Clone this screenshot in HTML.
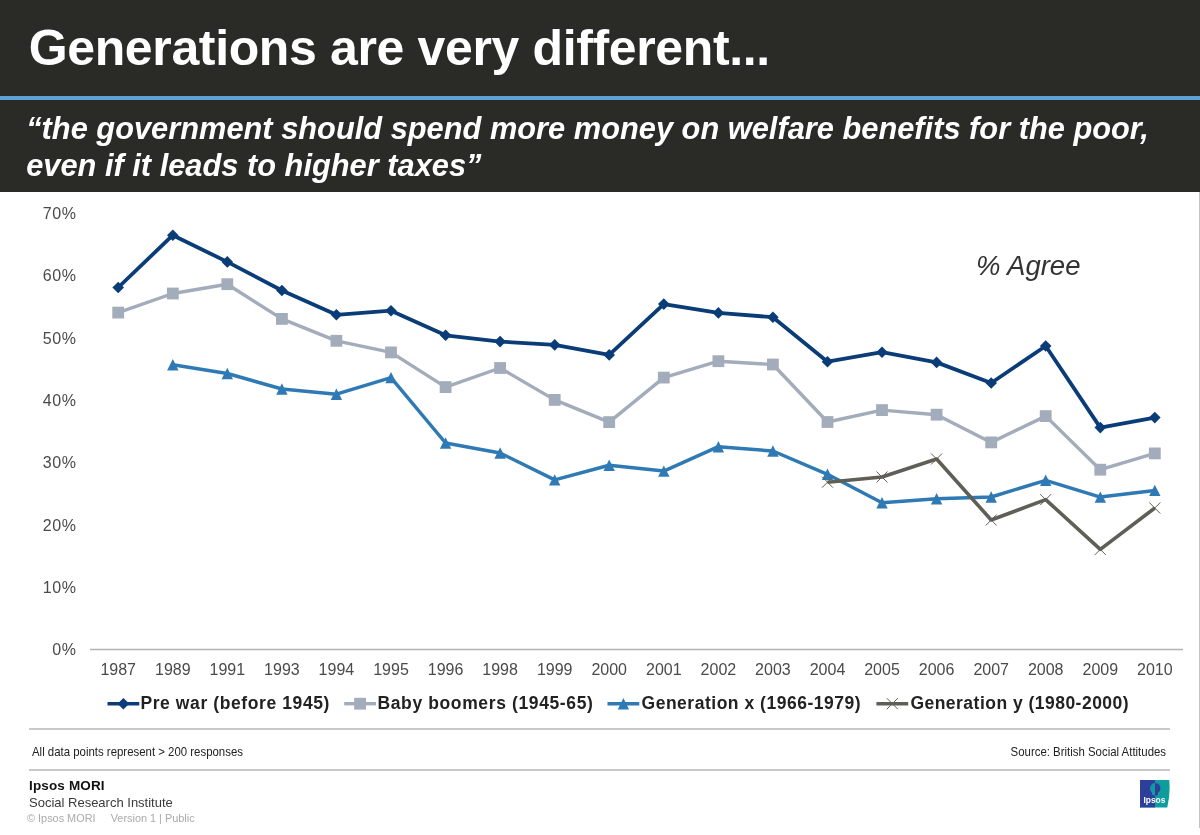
<!DOCTYPE html>
<html lang="en"><head><meta charset="utf-8"><title>Generations are very different...</title>
<style>
html,body{margin:0;padding:0;background:#fff;}
body{width:1200px;height:835px;position:relative;overflow:hidden;font-family:"Liberation Sans",Arial,sans-serif;}
.hdr{position:absolute;left:0;top:0;width:1200px;height:192px;background:#2a2a27;}
.rule{position:absolute;left:0;top:96px;width:1200px;height:4px;background:#5fa0d5;}
h1{position:absolute;left:28.7px;top:19px;margin:0;font-size:50px;line-height:58px;letter-spacing:-0.36px;font-weight:bold;color:#fff;white-space:nowrap;}
.sub{position:absolute;left:26.2px;top:110px;margin:0;font-size:30.8px;line-height:37px;font-weight:bold;font-style:italic;color:#fff;white-space:nowrap;}
.chart{position:absolute;left:0;top:0;}
.hr{position:absolute;left:29px;width:1141px;height:2px;background:#c9c9c9;}
.note{position:absolute;top:744px;font-size:13px;line-height:15px;color:#222;white-space:nowrap;transform:scaleX(0.878);}
.brand{position:absolute;left:29px;top:778px;font-size:13px;line-height:16.5px;color:#3a3a3a;white-space:nowrap;}
.brand b{color:#111;font-size:13.5px;letter-spacing:0.15px;}
.copy{position:absolute;left:27px;top:811px;font-size:10.9px;line-height:14px;color:#aaa;white-space:nowrap;}
.edge{position:absolute;left:1199px;top:192px;width:1px;height:636px;background:#c4c4c4;}
</style></head><body>
<div class="hdr"></div><div class="rule"></div>
<h1>Generations are very different...</h1>
<p class="sub">“the government should spend more money on welfare benefits for the poor,<br>even if it leads to higher taxes”</p>
<svg class="chart" width="1200" height="835" viewBox="0 0 1200 835">
<line x1="90" y1="649.5" x2="1183" y2="649.5" stroke="#b3b3b3" stroke-width="1.5"/>
<g font-family="Liberation Sans, Arial, sans-serif" font-size="16" fill="#4a4a4a" text-anchor="end" letter-spacing="0.6">
<text x="76.6" y="655.3">0%</text>
<text x="76.6" y="592.9">10%</text>
<text x="76.6" y="530.6">20%</text>
<text x="76.6" y="468.2">30%</text>
<text x="76.6" y="405.9">40%</text>
<text x="76.6" y="343.6">50%</text>
<text x="76.6" y="281.2">60%</text>
<text x="76.6" y="218.9">70%</text>
</g>
<g font-family="Liberation Sans, Arial, sans-serif" font-size="16" fill="#4a4a4a" text-anchor="middle">
<text x="118.2" y="674.8">1987</text>
<text x="172.8" y="674.8">1989</text>
<text x="227.3" y="674.8">1991</text>
<text x="281.9" y="674.8">1993</text>
<text x="336.4" y="674.8">1994</text>
<text x="391.0" y="674.8">1995</text>
<text x="445.6" y="674.8">1996</text>
<text x="500.1" y="674.8">1998</text>
<text x="554.7" y="674.8">1999</text>
<text x="609.2" y="674.8">2000</text>
<text x="663.8" y="674.8">2001</text>
<text x="718.4" y="674.8">2002</text>
<text x="772.9" y="674.8">2003</text>
<text x="827.5" y="674.8">2004</text>
<text x="882.0" y="674.8">2005</text>
<text x="936.6" y="674.8">2006</text>
<text x="991.2" y="674.8">2007</text>
<text x="1045.7" y="674.8">2008</text>
<text x="1100.3" y="674.8">2009</text>
<text x="1154.8" y="674.8">2010</text>
</g>
<polyline fill="none" stroke="#0a3c78" stroke-width="3.8" stroke-linejoin="round" stroke-linecap="butt" points="118.2,287.5 172.8,235.2 227.3,261.9 281.9,290.5 336.4,314.8 391.0,310.7 445.6,335.3 500.1,341.6 554.7,344.9 609.2,354.9 663.8,304.1 718.4,312.9 772.9,317.2 827.5,361.7 882.0,352.2 936.6,362.4 991.2,383.0 1045.7,346.0 1100.3,427.6 1154.8,417.6"/>
<g fill="#0a3c78">
<path d="M118.2 281.7L124.0 287.5L118.2 293.3L112.4 287.5Z"/>
<path d="M172.8 229.4L178.6 235.2L172.8 241.0L167.0 235.2Z"/>
<path d="M227.3 256.1L233.1 261.9L227.3 267.7L221.5 261.9Z"/>
<path d="M281.9 284.7L287.7 290.5L281.9 296.3L276.1 290.5Z"/>
<path d="M336.4 309.0L342.2 314.8L336.4 320.6L330.6 314.8Z"/>
<path d="M391.0 304.9L396.8 310.7L391.0 316.5L385.2 310.7Z"/>
<path d="M445.6 329.5L451.4 335.3L445.6 341.1L439.8 335.3Z"/>
<path d="M500.1 335.8L505.9 341.6L500.1 347.4L494.3 341.6Z"/>
<path d="M554.7 339.1L560.5 344.9L554.7 350.7L548.9 344.9Z"/>
<path d="M609.2 349.1L615.0 354.9L609.2 360.7L603.4 354.9Z"/>
<path d="M663.8 298.3L669.6 304.1L663.8 309.9L658.0 304.1Z"/>
<path d="M718.4 307.1L724.2 312.9L718.4 318.7L712.6 312.9Z"/>
<path d="M772.9 311.4L778.7 317.2L772.9 323.0L767.1 317.2Z"/>
<path d="M827.5 355.9L833.3 361.7L827.5 367.5L821.7 361.7Z"/>
<path d="M882.0 346.4L887.8 352.2L882.0 358.0L876.2 352.2Z"/>
<path d="M936.6 356.6L942.4 362.4L936.6 368.2L930.8 362.4Z"/>
<path d="M991.2 377.2L997.0 383.0L991.2 388.8L985.4 383.0Z"/>
<path d="M1045.7 340.2L1051.5 346.0L1045.7 351.8L1039.9 346.0Z"/>
<path d="M1100.3 421.8L1106.1 427.6L1100.3 433.4L1094.5 427.6Z"/>
<path d="M1154.8 411.8L1160.6 417.6L1154.8 423.4L1149.0 417.6Z"/>
</g>
<polyline fill="none" stroke="#a3acba" stroke-width="3.4" stroke-linejoin="round" stroke-linecap="butt" points="118.2,312.6 172.8,293.5 227.3,284.2 281.9,318.9 336.4,340.8 391.0,352.4 445.6,387.1 500.1,368.0 554.7,399.9 609.2,422.1 663.8,377.6 718.4,361.2 772.9,364.5 827.5,422.0 882.0,410.1 936.6,414.7 991.2,442.4 1045.7,416.1 1100.3,469.7 1154.8,453.4"/>
<g fill="#a3acba">
<rect x="112.3" y="306.7" width="11.8" height="11.8"/>
<rect x="166.9" y="287.6" width="11.8" height="11.8"/>
<rect x="221.4" y="278.3" width="11.8" height="11.8"/>
<rect x="276.0" y="313.0" width="11.8" height="11.8"/>
<rect x="330.5" y="334.9" width="11.8" height="11.8"/>
<rect x="385.1" y="346.5" width="11.8" height="11.8"/>
<rect x="439.7" y="381.2" width="11.8" height="11.8"/>
<rect x="494.2" y="362.1" width="11.8" height="11.8"/>
<rect x="548.8" y="394.0" width="11.8" height="11.8"/>
<rect x="603.3" y="416.2" width="11.8" height="11.8"/>
<rect x="657.9" y="371.7" width="11.8" height="11.8"/>
<rect x="712.5" y="355.3" width="11.8" height="11.8"/>
<rect x="767.0" y="358.6" width="11.8" height="11.8"/>
<rect x="821.6" y="416.1" width="11.8" height="11.8"/>
<rect x="876.1" y="404.2" width="11.8" height="11.8"/>
<rect x="930.7" y="408.8" width="11.8" height="11.8"/>
<rect x="985.3" y="436.5" width="11.8" height="11.8"/>
<rect x="1039.8" y="410.2" width="11.8" height="11.8"/>
<rect x="1094.4" y="463.8" width="11.8" height="11.8"/>
<rect x="1148.9" y="447.5" width="11.8" height="11.8"/>
</g>
<polyline fill="none" stroke="#2f7ab4" stroke-width="3.5" stroke-linejoin="round" stroke-linecap="butt" points="172.8,364.7 227.3,373.5 281.9,389.0 336.4,394.2 391.0,377.6 445.6,443.0 500.1,453.0 554.7,479.9 609.2,465.2 663.8,471.1 718.4,446.7 772.9,451.0 827.5,474.3 882.0,502.7 936.6,498.8 991.2,497.0 1045.7,480.3 1100.3,497.1 1154.8,490.4"/>
<g fill="#2f7ab4">
<path d="M172.8 359.0L178.5 370.4L167.1 370.4Z"/>
<path d="M227.3 367.8L233.0 379.2L221.6 379.2Z"/>
<path d="M281.9 383.3L287.6 394.7L276.2 394.7Z"/>
<path d="M336.4 388.5L342.1 399.9L330.7 399.9Z"/>
<path d="M391.0 371.9L396.7 383.3L385.3 383.3Z"/>
<path d="M445.6 437.3L451.3 448.7L439.9 448.7Z"/>
<path d="M500.1 447.3L505.8 458.7L494.4 458.7Z"/>
<path d="M554.7 474.2L560.4 485.6L549.0 485.6Z"/>
<path d="M609.2 459.5L614.9 470.9L603.5 470.9Z"/>
<path d="M663.8 465.4L669.5 476.8L658.1 476.8Z"/>
<path d="M718.4 441.0L724.1 452.4L712.7 452.4Z"/>
<path d="M772.9 445.3L778.6 456.7L767.2 456.7Z"/>
<path d="M827.5 468.6L833.2 480.0L821.8 480.0Z"/>
<path d="M882.0 497.0L887.7 508.4L876.3 508.4Z"/>
<path d="M936.6 493.1L942.3 504.5L930.9 504.5Z"/>
<path d="M991.2 491.3L996.9 502.7L985.5 502.7Z"/>
<path d="M1045.7 474.6L1051.4 486.0L1040.0 486.0Z"/>
<path d="M1100.3 491.4L1106.0 502.8L1094.6 502.8Z"/>
<path d="M1154.8 484.7L1160.5 496.1L1149.1 496.1Z"/>
</g>
<polyline fill="none" stroke="#5f5f57" stroke-width="3.6" stroke-linejoin="round" stroke-linecap="butt" points="827.5,482.2 882.0,477.0 936.6,459.0 991.2,520.0 1045.7,499.6 1100.3,549.4 1154.8,508.0"/>
<g fill="none" stroke="#5f5f57" stroke-width="1">
<path d="M822.0 476.7L833.0 487.7M833.0 476.7L822.0 487.7"/>
<path d="M876.5 471.5L887.5 482.5M887.5 471.5L876.5 482.5"/>
<path d="M931.1 453.5L942.1 464.5M942.1 453.5L931.1 464.5"/>
<path d="M985.7 514.5L996.7 525.5M996.7 514.5L985.7 525.5"/>
<path d="M1040.2 494.1L1051.2 505.1M1051.2 494.1L1040.2 505.1"/>
<path d="M1094.8 543.9L1105.8 554.9M1105.8 543.9L1094.8 554.9"/>
<path d="M1149.3 502.5L1160.3 513.5M1160.3 502.5L1149.3 513.5"/>
</g>
<text x="976" y="275" font-family="Liberation Sans, Arial, sans-serif" font-size="27.5" font-style="italic" fill="#333">% Agree</text>
<line x1="107.5" y1="703.7" x2="139.3" y2="703.7" stroke="#0a3c78" stroke-width="3.4"/>
<g fill="#0a3c78"><path d="M123.4 697.9L129.2 703.7L123.4 709.5L117.6 703.7Z"/></g>
<text x="140.4" y="708.7" font-family="Liberation Sans, Arial, sans-serif" font-size="17.5" font-weight="bold" letter-spacing="0.6" fill="#222">Pre war (before 1945)</text>
<line x1="344.2" y1="703.7" x2="376" y2="703.7" stroke="#a3acba" stroke-width="3.4"/>
<g fill="#a3acba"><rect x="354.2" y="697.8" width="11.8" height="11.8"/></g>
<text x="377.5" y="708.7" font-family="Liberation Sans, Arial, sans-serif" font-size="17.5" font-weight="bold" letter-spacing="0.62" fill="#222">Baby boomers (1945-65)</text>
<line x1="607.5" y1="703.7" x2="639.3" y2="703.7" stroke="#2f7ab4" stroke-width="3.4"/>
<g fill="#2f7ab4"><path d="M623.4 698.0L629.1 709.4L617.7 709.4Z"/></g>
<text x="641.5" y="708.7" font-family="Liberation Sans, Arial, sans-serif" font-size="17.5" font-weight="bold" letter-spacing="0.52" fill="#222">Generation x (1966-1979)</text>
<line x1="876.4" y1="703.7" x2="908.2" y2="703.7" stroke="#5f5f57" stroke-width="3.4"/>
<g fill="none" stroke="#5f5f57" stroke-width="1"><path d="M886.8 698.2L897.8 709.2M897.8 698.2L886.8 709.2"/></g>
<text x="910.4" y="708.7" font-family="Liberation Sans, Arial, sans-serif" font-size="17.5" font-weight="bold" letter-spacing="0.48" fill="#222">Generation y (1980-2000)</text>
</svg>
<div class="hr" style="top:728px"></div>
<div class="hr" style="top:769px"></div>
<div class="note" id="n1" style="left:32px;transform-origin:0 0">All data points represent &gt; 200 responses</div>
<div class="note" id="n2" style="right:33.5px;transform-origin:100% 0">Source: British Social Attitudes</div>
<div class="brand"><b>Ipsos MORI</b><br>Social Research Institute</div>
<div class="copy">© Ipsos MORI &nbsp;&nbsp;&nbsp; Version 1 | Public</div>
<svg class="logo" style="position:absolute;left:1140px;top:780px" width="30" height="28" viewBox="0 0 30 28">
<path d="M0 0H29.2Q30.6 13 27.3 27.4H0Z" fill="#0f9c9d"/>
<path d="M0 0H15V27.4H0Z" fill="#2e3f9b"/>
<path d="M15 2.9A5.2 5.6 0 0 0 12 12.8L12 14.6Q13.4 15.6 15 15.4Z" fill="#0f9c9d"/>
<path d="M15 2.9A5.3 5.3 0 0 1 18 12.6L17.8 15.2Q16.4 15.6 15 15.4Z" fill="#2e3f9b"/>
<text x="3.4" y="22.6" font-family="Liberation Sans, Arial, sans-serif" font-size="9.6" font-weight="bold" fill="#fff" textLength="22" lengthAdjust="spacingAndGlyphs">Ipsos</text>
</svg>
<div class="edge"></div>
</body></html>
